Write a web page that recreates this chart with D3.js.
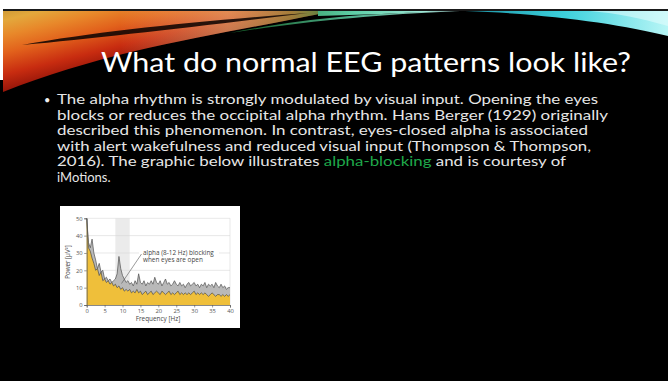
<!DOCTYPE html>
<html>
<head>
<meta charset="utf-8">
<script src="https://cdn.jsdelivr.net/npm/d3@7"></script>
<style>
  html, body { margin: 0; padding: 0; background: #ffffff; overflow: hidden; }
  svg { display: block; }
</style>
</head>
<body>
<svg id="slide" width="668" height="381"></svg>
<script>
// ---- Slide text ----
const slideTitle = "What do normal EEG patterns look like?";
const bodyLines = [
  "The alpha rhythm is strongly modulated by visual input. Opening the eyes",
  "blocks or reduces the occipital alpha rhythm. Hans Berger (1929) originally",
  "described this phenomenon. In contrast, eyes-closed alpha is associated",
  "with alert wakefulness and reduced visual input (Thompson & Thompson,",
  ["2016). The graphic below illustrates ", "alpha-blocking", " and is courtesy of"],
  "iMotions."
];

// ---- Spectrum data (power in µV² per 0.5 Hz bin, 0–40 Hz) ----
const freqHz = d3.range(0, 40.01, 0.5);
const powerEyesClosed = [
  50, 36, 33, 38, 30, 26, 21, 24, 19, 20,
  15, 16, 14, 15, 13, 14, 15, 18, 28, 21,
  17, 15, 13, 14, 12, 13, 11, 14, 12, 18,
  13, 12, 14, 11, 13, 12, 14, 12, 16, 13,
  12, 14, 11, 13, 15, 12, 13, 11, 12, 14,
  12, 11, 13, 11, 12, 10, 12, 13, 11, 12,
  13, 11, 12, 10, 12, 11, 13, 10, 12, 11,
  12, 10, 13, 11, 10, 12, 10, 11, 9, 10,
  10
];
const powerEyesOpen = [
  50, 33, 31, 27, 24, 20, 21, 17, 19, 14,
  15, 13, 14, 12, 13, 11, 12, 10, 11, 9,
  10, 8, 9, 8, 9, 7, 8, 7, 9, 7,
  8, 6, 7, 8, 6, 7, 8, 6, 7, 8,
  7, 6, 8, 7, 6, 7, 8, 6, 7, 6,
  7, 8, 6, 7, 6, 7, 6, 7, 6, 7,
  8, 6, 7, 6, 7, 6, 7, 6, 5, 6,
  7, 6, 5, 6, 6, 5, 6, 5, 6, 5,
  6
];
const yTickValues = [0, 10, 20, 30, 40, 50];
const xTickValues = [0, 5, 10, 15, 20, 25, 30, 35, 40];
const alphaBandHz = [8, 12];
const annotationLines = ["alpha (8-12 Hz) blocking", "when eyes are open"];

const svg = d3.select("#slide");
const defs = svg.append("defs");

// ---- Slide background ----
svg.append("rect").attr("x", 0).attr("y", 0).attr("width", 668).attr("height", 381).attr("fill", "#000");
svg.append("rect").attr("x", 0).attr("y", 0).attr("width", 668).attr("height", 9).attr("fill", "#ffffff");
svg.append("rect").attr("x", 0).attr("y", 0).attr("width", 3).attr("height", 80).attr("fill", "#ffffff");
svg.append("rect").attr("x", 3).attr("y", 9).attr("width", 665).attr("height", 2).attr("fill", "#1a1a1a");

// ---- Header swoosh ----
const warm = defs.append("linearGradient").attr("id", "warm")
  .attr("gradientUnits", "userSpaceOnUse").attr("x1", 0).attr("y1", 11).attr("x2", 20).attr("y2", 92);
[[0, "#cf9a36"], [0.12, "#e3a83c"], [0.3, "#e8882a"], [0.5, "#e2621c"], [0.75, "#c82c10"], [1, "#8a1008"]]
  .forEach(([o, c]) => warm.append("stop").attr("offset", o).attr("stop-color", c));

const warmTint = defs.append("linearGradient").attr("id", "warmTint")
  .attr("gradientUnits", "userSpaceOnUse").attr("x1", 120).attr("y1", 0).attr("x2", 335).attr("y2", 0);
[[0, "#fff3b0", 0], [0.5, "#f6e8a0", 0.45], [0.8, "#9cbc58", 0.6], [1, "#2f8a48", 0.9]]
  .forEach(([o, c, a]) => warmTint.append("stop").attr("offset", o).attr("stop-color", c).attr("stop-opacity", a));

const warmPath = "M3,11 L332,11 C250,30 120,45 3,92 Z";
svg.append("path").attr("d", warmPath).attr("fill", "url(#warm)");
svg.append("path").attr("d", warmPath).attr("fill", "url(#warmTint)");

// dark streak across the warm swoosh
svg.append("path")
  .attr("d", "M22,45 C100,31 200,21 308,13 C200,26 100,38 22,45 Z")
  .attr("fill", "#140804").attr("opacity", 0.9);

// teal streak continuing along the top
const teal = defs.append("linearGradient").attr("id", "teal")
  .attr("gradientUnits", "userSpaceOnUse").attr("x1", 250).attr("y1", 0).attr("x2", 460).attr("y2", 0);
[[0, "#1f7a3a"], [0.5, "#5fcfa8"], [1, "#bff4ee"]]
  .forEach(([o, c]) => teal.append("stop").attr("offset", o).attr("stop-color", c));
svg.append("path")
  .attr("d", "M230,33 C300,19 360,13 460,11 L460,11 C370,15 300,22 230,33 Z")
  .attr("fill", "url(#teal)").attr("opacity", 0.85);
svg.append("path")
  .attr("d", "M318,11 L455,11 C400,13 360,15 318,16 Z")
  .attr("fill", "url(#teal)");

// cyan wedge on the right
const cyan = defs.append("linearGradient").attr("id", "cyan")
  .attr("gradientUnits", "userSpaceOnUse").attr("x1", 460).attr("y1", 0).attr("x2", 668).attr("y2", 0);
[[0, "#1a8ea0"], [0.5, "#3cd0dc"], [1, "#b8f6f6"]]
  .forEach(([o, c]) => cyan.append("stop").attr("offset", o).attr("stop-color", c));
svg.append("path")
  .attr("d", "M465,11 L668,11 L668,36 C620,24 550,14 465,11 Z")
  .attr("fill", "url(#cyan)");
svg.append("path")
  .attr("d", "M590,11 L668,11 L668,26 C640,18 615,13 590,11 Z")
  .attr("fill", "#e6fdfd").attr("opacity", 0.55);

// ---- Title ----
svg.append("text")
  .attr("x", 101).attr("y", 72)
  .attr("textLength", 530).attr("lengthAdjust", "spacingAndGlyphs")
  .attr("font-family", "Lato, 'Open Sans', sans-serif").attr("font-size", 26)
  .attr("font-weight", 400)
  .attr("fill", "#ffffff")
  .text(slideTitle);

// ---- Body text ----
const lineWidths = [541, 551, 531, 534, 509, null];
const baselines = [104, 119.5, 135, 150.5, 166, 181.5];
svg.append("text").attr("x", 44).attr("y", 103.5)
  .attr("font-family", "Lato, sans-serif").attr("font-size", 11).attr("fill", "#eeeeee").text("•");
bodyLines.forEach((ln, i) => {
  const t = svg.append("text")
    .attr("x", 57).attr("y", baselines[i])
    .attr("font-family", "Lato, 'Open Sans', sans-serif").attr("font-size", 13)
    .attr("font-weight", 400)
    .attr("fill", "#e6e6e6");
  if (lineWidths[i]) t.attr("textLength", lineWidths[i]).attr("lengthAdjust", "spacingAndGlyphs");
  if (Array.isArray(ln)) {
    ln.forEach((part, j) => t.append("tspan").attr("fill", j === 1 ? "#1fa84a" : "#e6e6e6").text(part));
  } else {
    t.text(ln);
  }
});

// ---- Embedded spectrum chart ----
const card = { x: 60, y: 206, w: 180, h: 122 };
svg.append("rect").attr("x", card.x).attr("y", card.y).attr("width", card.w).attr("height", card.h).attr("fill", "#ffffff");

const x = d3.scaleLinear().domain([0, 40]).range([86.7, 230]);
const y = d3.scaleLinear().domain([0, 50]).range([305, 218.3]);
const chart = svg.append("g").attr("font-family", "'Open Sans', sans-serif");

// alpha band shading
chart.append("rect")
  .attr("x", x(alphaBandHz[0])).attr("y", y(50))
  .attr("width", x(alphaBandHz[1]) - x(alphaBandHz[0])).attr("height", y(0) - y(50))
  .attr("fill", "#ebebeb");

// grid lines
chart.append("g").selectAll("line").data(yTickValues.filter(d => d > 0)).join("line")
  .attr("x1", x(0)).attr("x2", x(40)).attr("y1", d => y(d)).attr("y2", d => y(d))
  .attr("stroke", "#d9d9d9").attr("stroke-width", 0.6);
chart.append("line").attr("x1", x(40)).attr("x2", x(40)).attr("y1", y(50)).attr("y2", y(0))
  .attr("stroke", "#d9d9d9").attr("stroke-width", 0.6);

// spectra
const pts = (vals) => freqHz.map((f, i) => [f, vals[i]]);
const area = d3.area().x(d => x(d[0])).y0(y(0)).y1(d => y(d[1]));
const line = d3.line().x(d => x(d[0])).y(d => y(d[1]));
chart.append("path").attr("d", area(pts(powerEyesClosed))).attr("fill", "#b9b9b9");
chart.append("path").attr("d", line(pts(powerEyesClosed))).attr("fill", "none").attr("stroke", "#505050").attr("stroke-width", 0.7);
chart.append("path").attr("d", area(pts(powerEyesOpen))).attr("fill", "#efbf3a");
chart.append("path").attr("d", line(pts(powerEyesOpen))).attr("fill", "none").attr("stroke", "#4a4a4a").attr("stroke-width", 0.7);

// annotation
chart.append("rect").attr("x", 139).attr("y", 248).attr("width", 80).attr("height", 15).attr("fill", "#ffffff");
chart.append("line").attr("x1", 141.5).attr("y1", 254).attr("x2", 121.5).attr("y2", 283.5)
  .attr("stroke", "#555").attr("stroke-width", 0.6);
annotationLines.forEach((s, i) => {
  chart.append("text").attr("x", 143).attr("y", 254.5 + i * 7.6)
    .attr("font-size", 6.4).attr("fill", "#444").text(s);
});

// axes
const yAxis = chart.append("g").attr("transform", `translate(${x(0)},0)`)
  .call(d3.axisLeft(y).tickValues(yTickValues).tickSize(2.5).tickPadding(1.5));
const xAxis = chart.append("g").attr("transform", `translate(0,${y(0)})`)
  .call(d3.axisBottom(x).tickValues(xTickValues).tickSize(2.5).tickPadding(1.5));
[yAxis, xAxis].forEach(g => {
  g.select(".domain").attr("stroke", "#555").attr("stroke-width", 0.7);
  g.selectAll(".tick line").attr("stroke", "#555").attr("stroke-width", 0.6);
  g.selectAll(".tick text").attr("font-size", 5.8).attr("fill", "#555")
    .attr("font-family", "'Open Sans', sans-serif");
});

chart.append("text").attr("x", 158).attr("y", 321).attr("text-anchor", "middle")
  .attr("font-size", 6.4).attr("fill", "#444").text("Frequency [Hz]");
chart.append("text").attr("transform", "translate(69.5,262) rotate(-90)").attr("text-anchor", "middle")
  .attr("font-size", 6.2).attr("fill", "#444").text("Power [µV²]");
</script>
</body>
</html>
